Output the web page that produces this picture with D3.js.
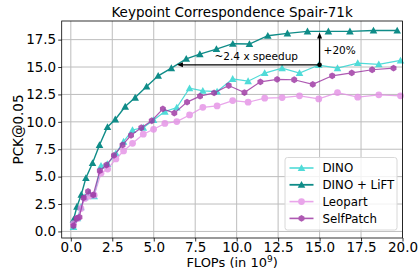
<!DOCTYPE html>
<html>
<head>
<meta charset="utf-8">
<script src="https://cdn.jsdelivr.net/npm/d3@7"></script>
<style>
  body { margin: 0; background: #fff; }
  text { font-family: "DejaVu Sans", sans-serif; }
</style>
</head>
<body>
<div id="chart"></div>
<script>
// Data (FLOPs in 1e9, PCK@0.05)
const dinoX = [0.16, 0.40, 0.61, 0.85, 1.11, 1.41, 1.82, 2.22, 2.72, 3.18, 3.72, 4.37, 4.99, 5.67,
  6.39, 7.16, 7.96, 8.82, 9.76, 10.69, 11.69, 12.74, 13.79, 14.95, 16.08, 17.30, 18.57, 19.88];
const dinoY = [0.41, 1.21, 2.21, 3.13, 3.49, 3.22, 5.99, 6.15, 7.13, 8.19, 9.26, 9.47, 10.17, 10.93,
  11.30, 13.07, 12.83, 12.76, 13.92, 13.71, 14.45, 14.90, 14.45, 15.18, 14.90, 15.36, 15.25, 15.60];

const liftX = [0.16, 0.37, 0.63, 0.91, 1.31, 1.73, 2.21, 2.68, 3.28, 3.88, 4.57, 5.27, 6.06,
  6.96, 7.78, 8.78, 9.77, 10.77, 11.88, 13.06, 14.27, 15.53, 16.83, 18.25, 19.68];
const liftY = [1.07, 2.26, 3.36, 4.87, 6.24, 7.89, 9.53, 10.22, 11.39, 12.21, 13.23, 14.20, 14.90,
  15.75, 16.18, 16.64, 17.13, 17.10, 17.86, 18.07, 18.25, 18.25, 18.25, 18.33, 18.33];

const leopartX = dinoX;
const leopartY = [0.72, 1.18, 2.10, 3.01, 3.22, 3.31, 5.30, 5.69, 6.61, 7.34, 8.04, 8.87, 9.32, 9.85,
  10.02, 10.63, 11.32, 11.45, 11.94, 11.79, 12.16, 12.21, 12.37, 12.09, 12.67, 12.25, 12.46, 12.37];

const selfX = [0.16, 0.34, 0.52, 0.77, 1.04, 1.35, 1.75, 2.15, 2.60, 3.12, 3.63, 4.25, 4.88, 5.55,
  6.24, 7.01, 7.79, 8.64, 9.52, 10.47, 11.43, 12.44, 13.47, 14.59, 15.76, 16.94, 18.17, 19.46];
const selfY = [0.52, 1.18, 1.30, 3.07, 3.65, 3.34, 5.54, 6.06, 6.94, 7.89, 8.77, 9.46, 10.10, 11.18,
  10.79, 11.80, 12.34, 12.64, 13.31, 12.67, 13.65, 13.87, 13.84, 13.42, 14.20, 14.47, 14.75, 14.90];

const seriesNames = ["DINO", "DINO + LiFT", "Leopart", "SelfPatch"];
const xTicks = [0, 2.5, 5, 7.5, 10, 12.5, 15, 17.5, 20];
const yTicks = [0, 2.5, 5, 7.5, 10, 12.5, 15, 17.5];

// Annotation values
const speedupFrom = [15, 15.2];
const speedupTo = 6.4;
const gainTo = 18.15;

const series = [
  { name: seriesNames[0], xs: dinoX, ys: dinoY, color: "#3ed8d4", marker: "tri", opacity: 0.9, width: 1.2 },
  { name: seriesNames[1], xs: liftX, ys: liftY, color: "#0f8c88", marker: "tri", opacity: 1, width: 1.4 },
  { name: seriesNames[2], xs: leopartX, ys: leopartY, color: "#e48fe6", marker: "circle", opacity: 0.8, width: 1.2 },
  { name: seriesNames[3], xs: selfX, ys: selfY, color: "#9a30a0", marker: "hex", opacity: 0.8, width: 1.2 }
];

const width = 419, height = 270;
const margin = { top: 21, right: 16.5, bottom: 32, left: 61.7 };

const svg = d3.select("#chart").append("svg")
  .attr("width", width).attr("height", height);

const x = d3.scaleLinear().domain([-0.55, 20]).range([margin.left, width - margin.right]);
const y = d3.scaleLinear().domain([-0.6, 19.2]).range([height - margin.bottom, margin.top]);

// grid
svg.append("g").selectAll("line").data(xTicks).enter().append("line")
  .attr("x1", d => x(d)).attr("x2", d => x(d))
  .attr("y1", margin.top).attr("y2", height - margin.bottom)
  .attr("stroke", "#bdbdbd").attr("stroke-width", 1);
svg.append("g").selectAll("line").data(yTicks).enter().append("line")
  .attr("y1", d => y(d)).attr("y2", d => y(d))
  .attr("x1", margin.left).attr("x2", width - margin.right)
  .attr("stroke", "#bdbdbd").attr("stroke-width", 1);

// marker shapes
function markerPath(type) {
  if (type === "tri") {
    const r = 3.8;
    return `M0,${-r}L${r},${r * 0.8}L${-r},${r * 0.8}Z`;
  }
  if (type === "hex") {
    const r = 3.4;
    let p = "";
    for (let i = 0; i < 6; i++) {
      const a = Math.PI / 3 * i;
      p += (i ? "L" : "M") + (r * Math.sin(a)).toFixed(2) + "," + (-r * Math.cos(a)).toFixed(2);
    }
    return p + "Z";
  }
  return d3.symbol(d3.symbolCircle, 36)();
}

const line = d3.line().x(d => x(d[0])).y(d => y(d[1]));

series.forEach(s => {
  const pts = s.xs.map((v, i) => [v, s.ys[i]]);
  const g = svg.append("g").attr("opacity", s.opacity);
  g.append("path").datum(pts)
    .attr("d", line).attr("fill", "none")
    .attr("stroke", s.color).attr("stroke-width", s.width);
  g.selectAll(".m").data(pts).enter().append("path")
    .attr("transform", d => `translate(${x(d[0])},${y(d[1])})`)
    .attr("d", markerPath(s.marker))
    .attr("fill", s.color);
});

// annotation arrows
const ax0 = x(speedupFrom[0]), ay0 = y(speedupFrom[1]);
svg.append("line").attr("x1", ax0).attr("y1", ay0).attr("x2", x(speedupTo) + 5).attr("y2", ay0)
  .attr("stroke", "#000").attr("stroke-width", 1.3);
svg.append("path")
  .attr("d", `M${x(speedupTo)},${ay0}L${x(speedupTo) + 6},${ay0 - 2.5}L${x(speedupTo) + 6},${ay0 + 2.5}Z`)
  .attr("fill", "#000");
svg.append("line").attr("x1", ax0).attr("y1", ay0).attr("x2", ax0).attr("y2", y(gainTo) + 5)
  .attr("stroke", "#000").attr("stroke-width", 1.3);
svg.append("path")
  .attr("d", `M${ax0},${y(gainTo)}L${ax0 - 2.5},${y(gainTo) + 6}L${ax0 + 2.5},${y(gainTo) + 6}Z`)
  .attr("fill", "#000");
svg.append("circle").attr("cx", ax0).attr("cy", ay0).attr("r", 2.3).attr("fill", "#000");

svg.append("text").attr("x", (ax0 + x(speedupTo)) / 2 + 8).attr("y", ay0 - 5)
  .attr("text-anchor", "middle").attr("font-size", 10.5).text("~2.4 x speedup");
svg.append("text").attr("x", ax0 + 4).attr("y", y(16.55) + 4)
  .attr("font-size", 10.5).text("+20%");

// axes
const xAxis = svg.append("g")
  .attr("transform", `translate(0,${height - margin.bottom})`)
  .call(d3.axisBottom(x).tickValues(xTicks).tickFormat(d3.format(".1f")).tickSize(3.5).tickPadding(0.5));
const yAxis = svg.append("g")
  .attr("transform", `translate(${margin.left},0)`)
  .call(d3.axisLeft(y).tickValues(yTicks).tickFormat(d3.format(".1f")).tickSize(3.5).tickPadding(2));
[xAxis, yAxis].forEach(a => {
  a.select(".domain").remove();
  a.selectAll("text").attr("font-size", 13.5).attr("fill", "#000")
    .attr("font-family", "DejaVu Sans, sans-serif");
  a.selectAll("line").attr("stroke", "#000").attr("stroke-width", 0.8);
});

// frame
svg.append("rect")
  .attr("x", margin.left).attr("y", margin.top)
  .attr("width", width - margin.left - margin.right)
  .attr("height", height - margin.top - margin.bottom)
  .attr("fill", "none").attr("stroke", "#000").attr("stroke-width", 0.8);

// title and labels
svg.append("text").attr("x", (margin.left + width - margin.right) / 2).attr("y", 17)
  .attr("text-anchor", "middle").attr("font-size", 13.5).text("Keypoint Correspondence Spair-71k");

const xl = svg.append("text").attr("x", (margin.left + width - margin.right) / 2).attr("y", 266.5)
  .attr("text-anchor", "middle").attr("font-size", 13);
xl.append("tspan").text("FLOPs (in 10");
xl.append("tspan").attr("dy", -4.5).attr("font-size", 9).text("9");
xl.append("tspan").attr("dy", 4.5).text(")");

svg.append("text")
  .attr("transform", `translate(23,${(margin.top + height - margin.bottom) / 2}) rotate(-90)`)
  .attr("text-anchor", "middle").attr("font-size", 13.5).text("PCK@0.05");

// legend
const lg = svg.append("g").attr("transform", "translate(285,157.5)");
lg.append("rect").attr("width", 112).attr("height", 72.5).attr("rx", 2.5)
  .attr("fill", "#fff").attr("fill-opacity", 0.8).attr("stroke", "#d8d8d8");
series.forEach((s, i) => {
  const gy = 10.5 + i * 16.8;
  const g = lg.append("g").attr("opacity", s.opacity);
  g.append("line").attr("x1", 4.5).attr("x2", 28.5).attr("y1", gy).attr("y2", gy)
    .attr("stroke", s.color).attr("stroke-width", s.width + 0.4);
  g.append("path").attr("transform", `translate(16.5,${gy})`)
    .attr("d", markerPath(s.marker)).attr("fill", s.color);
  lg.append("text").attr("x", 37.5).attr("y", gy + 4.3)
    .attr("font-size", 11.8).text(s.name);
});
</script>
</body>
</html>
